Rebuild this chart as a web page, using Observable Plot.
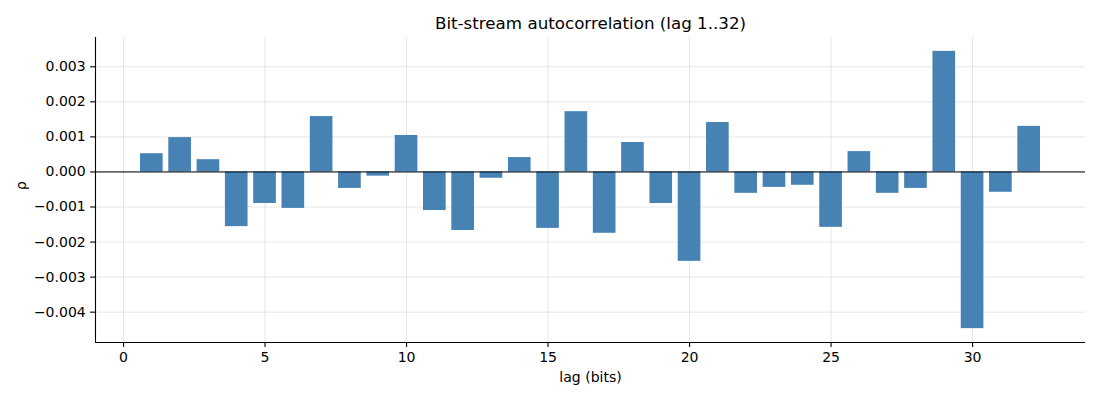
<!DOCTYPE html>
<html>
<head>
<meta charset="utf-8">
<script src="https://cdn.jsdelivr.net/npm/d3@7"></script>
<script src="https://cdn.jsdelivr.net/npm/@observablehq/plot@0.6"></script>
<style>
  html, body { margin: 0; padding: 0; background: #fff; }
  svg { display: block; }
</style>
</head>
<body>
<div id="chart"></div>
<script>
const lags = [1,2,3,4,5,6,7,8,9,10,11,12,13,14,15,16,17,18,19,20,21,22,23,24,25,26,27,28,29,30,31,32];
const rho = [0.00052,0.00098,0.00035,-0.00156,-0.00090,-0.00104,0.00158,-0.00047,-0.00012,0.00104,-0.00110,
             -0.00167,-0.00018,0.00041,-0.00161,0.00172,-0.00175,0.00084,-0.00090,-0.00255,0.00141,-0.00061,
             -0.00044,-0.00038,-0.00158,0.00058,-0.00061,-0.00047,0.00344,-0.00447,-0.00058,0.00130];
const xTicks = [0,5,10,15,20,25,30];
const yTicks = [-0.004,-0.003,-0.002,-0.001,0,0.001,0.002,0.003];
const title = "Bit-stream autocorrelation (lag 1..32)";
const xLabel = "lag (bits)";
const yLabel = "ρ";

const data = lags.map((l, i) => ({lag: l, rho: rho[i]}));
const xDom = [0.6 - 0.05 * 31.8, 32.4 + 0.05 * 31.8];
const yMin = d3.min(rho), yMax = d3.max(rho), pad = 0.05 * (yMax - yMin);
const yDom = [yMin - pad, yMax + pad];
const yFmt = d => d === 0 ? "0.000" : d3.format(".3f")(d);

const font = "DejaVu Sans, sans-serif";
const chart = Plot.plot({
  width: 1100,
  height: 400,
  marginTop: 37,
  marginBottom: 58,
  marginLeft: 95,
  marginRight: 15,
  style: {fontFamily: font, fontSize: "14px", background: "#fff", color: "#000"},
  x: {domain: xDom, ticks: xTicks},
  y: {domain: yDom, ticks: yTicks},
  marks: [
    Plot.gridX(xTicks, {stroke: "#b0b0b0", strokeOpacity: 0.3, strokeWidth: 1}),
    Plot.gridY(yTicks, {stroke: "#b0b0b0", strokeOpacity: 0.3, strokeWidth: 1}),
    Plot.rectY(data, {x1: d => d.lag - 0.4, x2: d => d.lag + 0.4, y: "rho", fill: "#4682b4"}),
    Plot.ruleY([0], {stroke: "#000", strokeWidth: 1}),
    Plot.ruleX([xDom[0]], {stroke: "#000", strokeWidth: 1.1}),
    Plot.ruleY([yDom[0]], {stroke: "#000", strokeWidth: 1.1}),
    Plot.axisX(xTicks, {tickSize: 4.9, label: null, strokeWidth: 1.1, tickFormat: () => ""}),
    Plot.axisY(yTicks, {tickSize: 4.9, label: null, strokeWidth: 1.1, tickFormat: () => ""}),
    Plot.text(xTicks, {x: d => d, frameAnchor: "bottom", lineAnchor: "top", dy: 9.5, text: d => d3.format("d")(d), fontSize: 14, fill: "#000"}),
    Plot.text(yTicks, {y: d => d, frameAnchor: "left", textAnchor: "end", dx: -9.8, text: yFmt, fontSize: 14, fill: "#000"}),
    Plot.text([xLabel], {frameAnchor: "bottom", dy: 35, lineAnchor: "middle", fontSize: 14, fill: "#000"}),
    Plot.text([yLabel], {frameAnchor: "left", dx: -74, rotate: -90, lineAnchor: "middle", fontSize: 14, fill: "#000"}),
    Plot.text([title], {frameAnchor: "top", dy: -14, lineAnchor: "middle", fontSize: 16.7, fill: "#000"})
  ]
});
document.getElementById("chart").appendChild(chart);
</script>
</body>
</html>
